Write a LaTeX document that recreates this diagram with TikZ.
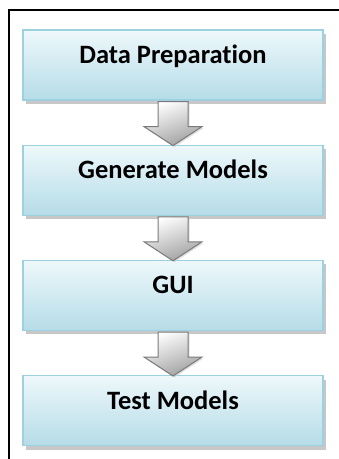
\documentclass[tikz,border=0pt]{standalone}
\usepackage{fontspec}
\setmainfont{Carlito}[Ligatures=NoCommon]
\usetikzlibrary{positioning,calc,shadows}

\definecolor{boxtop}{HTML}{EEF8FB}
\definecolor{boxbottom}{HTML}{B5DCE7}
\definecolor{boxline}{HTML}{9DD1DF}
\definecolor{arrowline}{HTML}{7A7A7A}

% block arrow from the bottom of one stage to the top of the next
\newcommand{\blockarrow}[2]{%
  \draw[flowarrow] ($(#1.south)+(-15,1)$) -- ($(#1.south)+(15,1)$)
    -- ($(#2.north)+(15,-18)$) -- ($(#2.north)+(29,-18)$)
    -- ($(#2.north)+(0,1)$)
    -- ($(#2.north)+(-29,-18)$) -- ($(#2.north)+(-15,-18)$) -- cycle;}

\begin{document}
\begin{tikzpicture}[x=1pt,y=-1pt,
  stage/.style={draw=boxline, line width=1.2pt, top color=boxtop, bottom color=boxbottom,
    minimum width=300pt, minimum height=70pt, inner sep=0pt,
    font=\bfseries\fontsize{26.5}{30}\selectfont, text height=17pt, text depth=20pt,
    drop shadow={shadow xshift=3pt, shadow yshift=-4pt, fill=gray!55, opacity=0.8}},
  flowarrow/.style={draw=arrowline, line width=1pt, line join=miter,
    top color=white, bottom color=gray!75, shading angle=20,
    drop shadow={shadow xshift=1.5pt, shadow yshift=-1.5pt, fill=gray!40, opacity=0.6}},
  node distance=44pt]

% page size
\useasboundingbox (0,0) rectangle (339,459);

% outer frame, running past the right and bottom edges
\draw[line width=1.4pt] (9,480) -- (9,10) -- (360,10);

% stages
\node[stage] (prep) at (173,65) {Data Preparation};
\node[stage, below=of prep] (gen) {Generate Models};
\node[stage, below=of gen] (gui) {GUI};
\node[stage, below=of gui] (test) {Test Models};

% arrows between stages
\blockarrow{prep}{gen}
\blockarrow{gen}{gui}
\blockarrow{gui}{test}

\end{tikzpicture}
\end{document}
